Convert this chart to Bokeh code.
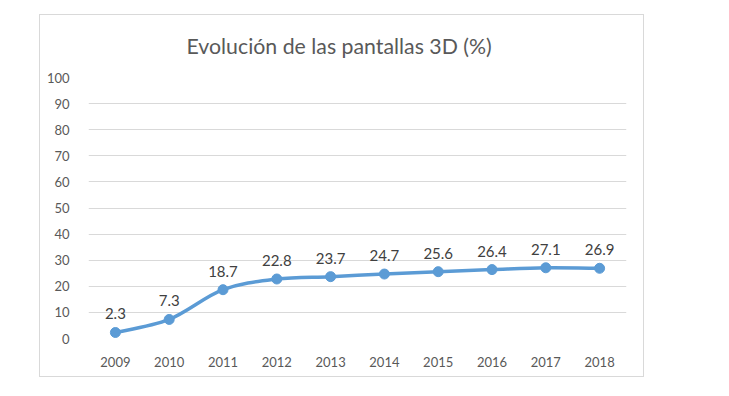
from bokeh.plotting import figure
from bokeh.models import Range1d, FixedTicker, ColumnDataSource, LabelSet, Spacer
from bokeh.layouts import row, column
from bokeh.embed import file_html
from bokeh.resources import INLINE
from bokeh.core.properties import value

years = ["2009", "2010", "2011", "2012", "2013", "2014", "2015", "2016", "2017", "2018"]
shares = [2.3, 7.3, 18.7, 22.8, 23.7, 24.7, 25.6, 26.4, 27.1, 26.9]
y_ticks = [0, 10, 20, 30, 40, 50, 60, 70, 80, 90, 100]
title_text = "Evolución de las pantallas 3D (%)"

FONT = "Lato"
BLUE = "#5B9BD5"
GRID = "#d9d9d9"
TXT = "#595959"

p = figure(width=605, height=363, output_backend="svg", toolbar_location=None,
           x_range=Range1d(-0.5, len(years) - 0.5), y_range=Range1d(0, 100),
           min_border_left=48, min_border_right=19, min_border_top=62, min_border_bottom=40)
p.styles = {"border": "1.5px solid #d9d9d9"}
p.outline_line_color = None

p.title.text = title_text
p.title.align = "left"
p.title.offset = 98
p.title.text_font = FONT
p.title.text_font_size = "21.3px"
p.title.text_font_style = "normal"
p.title.text_color = TXT
p.title.standoff = 33
p.title.vertical_align = "top"

xs = list(range(len(years)))
src = ColumnDataSource(dict(x=xs, y=shares, lbl=[str(v) for v in shares]))

# smooth (Catmull-Rom style) bezier segments computed from data
x0, y0, x1, y1, cx0, cy0, cx1, cy1 = [], [], [], [], [], [], [], []
n = len(shares)
for i in range(n - 1):
    pm = (xs[max(i - 1, 0)], shares[max(i - 1, 0)])
    pa = (xs[i], shares[i])
    pb = (xs[i + 1], shares[i + 1])
    pn = (xs[min(i + 2, n - 1)], shares[min(i + 2, n - 1)])
    x0.append(pa[0]); y0.append(pa[1]); x1.append(pb[0]); y1.append(pb[1])
    cx0.append(pa[0] + (pb[0] - pm[0]) / 6); cy0.append(pa[1] + (pb[1] - pm[1]) / 6)
    cx1.append(pb[0] - (pn[0] - pa[0]) / 6); cy1.append(pb[1] - (pn[1] - pa[1]) / 6)
p.bezier(x0=x0, y0=y0, x1=x1, y1=y1, cx0=cx0, cy0=cy0, cx1=cx1, cy1=cy1,
         line_color=BLUE, line_width=3.5)
p.scatter("x", "y", source=src, size=10, fill_color=BLUE, line_color=BLUE)

labels = LabelSet(x="x", y="y", text="lbl", source=src, y_offset=13,
                  text_align="center", text_baseline="bottom",
                  text_font=value(FONT), text_font_size="15px", text_color="#404040")
p.add_layout(labels)

p.xaxis.ticker = FixedTicker(ticks=xs)
p.xaxis.major_label_overrides = {i: y for i, y in enumerate(years)}
p.yaxis.ticker = FixedTicker(ticks=y_ticks)
for ax in (p.xaxis, p.yaxis):
    ax.axis_line_color = None
    ax.major_tick_line_color = None
    ax.minor_tick_line_color = None
    ax.major_label_text_font = FONT
    ax.major_label_text_font_size = "13px"
    ax.major_label_text_color = TXT
p.xaxis.major_label_standoff = 12
p.yaxis.major_label_standoff = 13
p.xgrid.grid_line_color = None
p.ygrid.grid_line_color = GRID
p.ygrid.grid_line_width = 1.2

layout = row(Spacer(width=39, height=377), column(Spacer(width=605, height=14), p))
open("out.html", "w").write(file_html(layout, INLINE))
